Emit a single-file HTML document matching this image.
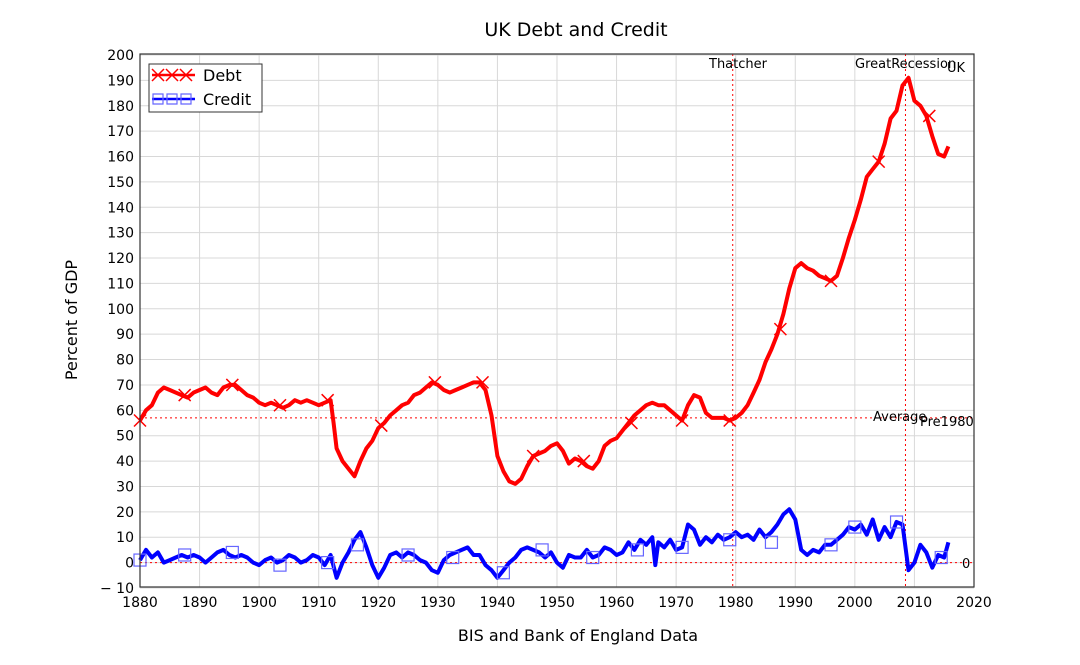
<!DOCTYPE html>
<html><head><meta charset="utf-8"><style>
body{margin:0;background:#fff;}
svg{display:block;font-family:"DejaVu Sans","Liberation Sans",sans-serif;}
</style></head><body>
<svg id="s" width="1080" height="665" xmlns="http://www.w3.org/2000/svg">
<rect width="1080" height="665" fill="#fff"/>
<g id="grid" stroke="#d8d8d8" stroke-width="1"></g>
<g id="ticks" font-size="14" fill="#000"></g>
<g id="series"></g>
<rect x="140" y="54" width="834" height="533" fill="none" stroke="#333" stroke-width="1.2"/>
<text x="576" y="36" font-size="19" text-anchor="middle">UK Debt and Credit</text>
<text x="578" y="641" font-size="16" text-anchor="middle">BIS and Bank of England Data</text>
<text transform="translate(77,320) rotate(-90)" font-size="16" text-anchor="middle">Percent of GDP</text>
<text x="709" y="68" font-size="13">Thatcher</text>
<text x="855" y="68" font-size="13">GreatRecession</text>
<text x="947" y="72" font-size="13">UK</text>
<text x="873" y="421" font-size="13">Average</text>
<text x="920" y="426" font-size="13">Pre1980</text>
<text x="962" y="568" font-size="13">0</text>
<g>
<rect x="149" y="64" width="113" height="48" fill="#fff" stroke="#333"/>
<line x1="152" y1="75" x2="195" y2="75" stroke="red" stroke-width="2.5"/>
<path d="M152,69l12,12M164,69l-12,12M166,69l12,12M178,69l-12,12M180,69l12,12M192,69l-12,12" stroke="red" stroke-width="1.5"/>
<text x="203" y="81" font-size="16">Debt</text>
<line x1="152" y1="99" x2="195" y2="99" stroke="blue" stroke-width="2.5"/>
<path d="M153,94h10v10h-10zM167,94h10v10h-10zM181,94h10v10h-10z" fill="none" stroke="#66f" stroke-width="1.2"/>
<text x="203" y="105" font-size="16">Credit</text>
</g>
</svg>
<script>
var X=function(y){return 140+(y-1880)*5.957},Y=function(v){return 562.6-v*2.538};
var NS="http://www.w3.org/2000/svg";
function el(t,a,p){var e=document.createElementNS(NS,t);for(var k in a)e.setAttribute(k,a[k]);p.appendChild(e);return e;}
var g=document.getElementById('grid'),tk=document.getElementById('ticks'),se=document.getElementById('series');
for(var yr=1880;yr<=2020;yr+=10){el('line',{x1:X(yr),x2:X(yr),y1:54,y2:587},g);var t=el('text',{x:X(yr),y:607,'text-anchor':'middle'},tk);t.textContent=yr;}
for(var v=-10;v<=200;v+=10){el('line',{x1:140,x2:974,y1:Y(v),y2:Y(v)},g);var t=el('text',{x:134,y:Y(v)+5,'text-anchor':'end'},tk);t.textContent=(v<0?'− 10':v);}
el('line',{x1:140,x2:974,y1:Y(57),y2:Y(57),stroke:'red','stroke-width':1,'stroke-dasharray':'2,3'},se);
el('line',{x1:140,x2:974,y1:Y(0),y2:Y(0),stroke:'red','stroke-width':1,'stroke-dasharray':'2,3'},se);
el('line',{x1:X(1979.5),x2:X(1979.5),y1:54,y2:587,stroke:'red','stroke-width':1,'stroke-dasharray':'2,3'},se);
el('line',{x1:X(2008.5),x2:X(2008.5),y1:54,y2:587,stroke:'red','stroke-width':1,'stroke-dasharray':'2,3'},se);
var debt=[1880,56,1881,60,1882,62,1883,67,1884,69,1885,68,1886,67,1887,66,1888,65,1889,67,1890,68,1891,69,1892,67,1893,66,1894,69,1895,70,1896,70,1897,68,1898,66,1899,65,1900,63,1901,62,1902,63,1903,62,1904,61,1905,62,1906,64,1907,63,1908,64,1909,63,1910,62,1911,63,1912,64,1912.5,55,1913,45,1914,40,1915,37,1916,34,1917,40,1918,45,1919,48,1920,53,1921,55,1922,58,1923,60,1924,62,1925,63,1926,66,1927,67,1928,69,1929,71,1930,70,1931,68,1932,67,1933,68,1934,69,1935,70,1936,71,1937,71,1938,68,1939,58,1940,42,1941,36,1942,32,1943,31,1944,33,1945,38,1946,42,1947,43,1948,44,1949,46,1950,47,1951,44,1952,39,1953,41,1954,40,1955,38,1956,37,1957,40,1958,46,1959,48,1960,49,1961,52,1962,55,1963,58,1964,60,1965,62,1966,63,1967,62,1968,62,1969,60,1970,58,1971,56,1972,62,1973,66,1974,65,1975,59,1976,57,1977,57,1978,57,1979,56,1980,57,1981,59,1982,62,1983,67,1984,72,1985,79,1986,84,1987,90,1988,98,1989,108,1990,116,1991,118,1992,116,1993,115,1994,113,1995,112,1996,111,1997,113,1998,120,1999,128,2000,135,2001,143,2002,152,2003,155,2004,158,2005,165,2006,175,2007,178,2008,188,2009,191,2010,182,2011,180,2012,176,2013,168,2014,161,2015,160,2015.7,164];
var cred=[1880,1,1881,5,1882,2,1883,4,1884,0,1885,1,1886,2,1887,3,1888,2,1889,3,1890,2,1891,0,1892,2,1893,4,1894,5,1895,3,1896,2,1897,3,1898,2,1899,0,1900,-1,1901,1,1902,2,1903,0,1904,1,1905,3,1906,2,1907,0,1908,1,1909,3,1910,2,1911,-1,1912,3,1913,-6,1914,0,1915,4,1916,9,1917,12,1918,6,1919,-1,1920,-6,1921,-2,1922,3,1923,4,1924,2,1925,4,1926,3,1927,1,1928,0,1929,-3,1930,-4,1931,1,1932,3,1933,4,1934,5,1935,6,1936,3,1937,3,1938,-1,1939,-3,1940,-6,1941,-3,1942,0,1943,2,1944,5,1945,6,1946,5,1947,4,1948,2,1949,4,1950,0,1951,-2,1952,3,1953,2,1954,2,1955,5,1956,2,1957,3,1958,6,1959,5,1960,3,1961,4,1962,8,1963,5,1964,9,1965,7,1966,10,1966.5,-1,1967,8,1968,6,1969,9,1970,5,1971,6,1972,15,1973,13,1974,7,1975,10,1976,8,1977,11,1978,9,1979,10,1980,12,1981,10,1982,11,1983,9,1984,13,1985,10,1986,12,1987,15,1988,19,1989,21,1990,17,1991,5,1992,3,1993,5,1994,4,1995,7,1996,7,1997,9,1998,11,1999,14,2000,13,2001,15,2002,11,2003,17,2004,9,2005,14,2006,10,2007,16,2008,15,2009,-3,2010,0,2011,7,2012,4,2013,-2,2014,3,2015,2,2015.7,8];
function pts(a){var s=[];for(var i=0;i<a.length;i+=2)s.push(X(a[i]).toFixed(1)+','+Y(a[i+1]).toFixed(1));return s.join(' ');}
el('polyline',{points:pts(debt),fill:'none',stroke:'red','stroke-width':4,'stroke-linejoin':'round'},se);
el('polyline',{points:pts(cred),fill:'none',stroke:'blue','stroke-width':4,'stroke-linejoin':'round'},se);
var dm=[1880,56,1887.5,66,1895.5,70,1903.5,62,1911.5,64,1920.5,54,1929.5,71,1937.5,71,1946,42,1954.5,40,1962.5,55,1971,56,1979,56,1987.5,92,1996,111,2004,158,2012.5,176];
for(var i=0;i<dm.length;i+=2){var x=X(dm[i]),y=Y(dm[i+1]);el('path',{d:'M'+(x-6)+','+(y-6)+'l12,12M'+(x+6)+','+(y-6)+'l-12,12',stroke:'red','stroke-width':1.5},se);}
var cm=[1880,1,1887.5,3,1895.5,4,1903.5,-1,1911.5,0,1916.5,7,1925,3,1932.5,2,1941,-4,1947.5,5,1956,2,1963.5,5,1971,6,1979,9,1986,8,1996,7,2000,14,2007,16,2014.5,2];
for(var i=0;i<cm.length;i+=2){var x=X(cm[i]),y=Y(cm[i+1]);el('rect',{x:x-6,y:y-6,width:12,height:12,fill:'none',stroke:'#66f','stroke-width':1.2},se);}
</script>
</body></html>
